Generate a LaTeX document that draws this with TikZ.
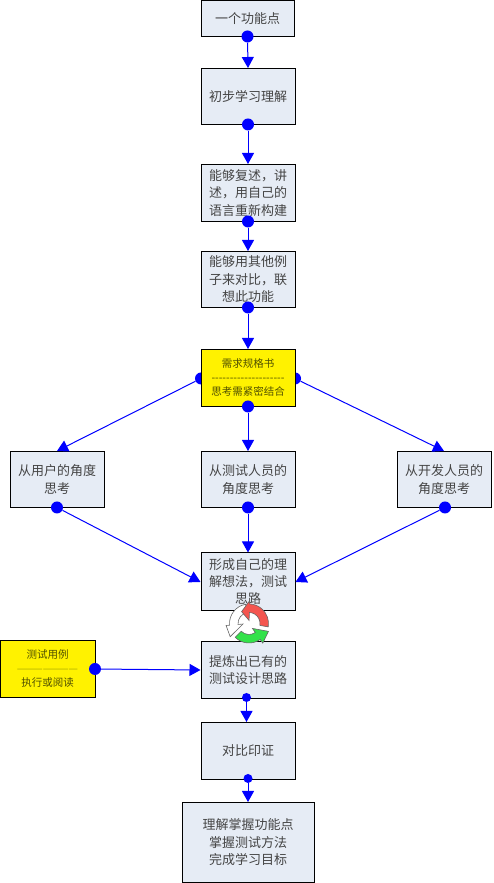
\documentclass[tikz,border=0pt]{standalone}
\usepackage{fontspec}
\setmainfont{Noto Sans CJK SC}
\usetikzlibrary{arrows.meta,calc}
\definecolor{boxfill}{HTML}{E6ECF5}
\definecolor{boxtext}{HTML}{444444}
\definecolor{yellowtext}{HTML}{505000}
\definecolor{rulegreen}{HTML}{A8A800}
\definecolor{cycgreen}{HTML}{33E24A}
\definecolor{cycred}{HTML}{F4554F}
\newcommand{\fwc}{\symbol{"FF0C}}
\tikzset{
  flowbox/.style={draw=black,line width=1pt,fill=boxfill,text=boxtext,inner sep=0pt,align=center,
    minimum width=94pt,minimum height=56pt,font=\fontsize{13}{17.5}\selectfont},
  notebox/.style={flowbox,fill=yellow,text=yellowtext,font=\fontsize{10.5}{14}\selectfont},
  bigdot/.style={circle,fill=blue,inner sep=0pt,minimum size=12pt},
  smalldot/.style={circle,fill=blue,inner sep=0pt,minimum size=9pt},
  link/.style={draw=blue,line width=1pt,-{Triangle[length=11pt,width=12pt]}},
}
% start angle, band end angle, colour, tip angle, tip radius, outer wing, inner wing
\newcommand{\cycarrow}[7]{%
  \fill[#3,draw=black!60,line width=0.6pt]
    ($(249,260)+(#1:19.5)$) arc[start angle=#1,end angle=#2,radius=19.5]
    -- ($(249,260)+(#2:#6)$) -- ($(249,260)+(#4:#5)$) -- ($(249,260)+(#2:#7)$) -- ($(249,260)+(#2:11)$)
    arc[start angle=#2,end angle=#1,radius=11] -- cycle;
}
\begin{document}
\begin{tikzpicture}[x=1pt,y=1pt]
\useasboundingbox (0,0.5) rectangle (493,883.5);
% dots half hidden behind the yellow box
\node[bigdot] (dyl) at (201,505) {};
\node[bigdot] (dyr) at (295,505) {};
% boxes
\node[flowbox,minimum width=93pt,minimum height=36pt] (b1) at (247.5,865) {一个功能点};
\node[flowbox] (b2) at (248,787) {初步学习理解};
\node[flowbox,minimum height=57pt] (b3) at (248,690.5) {能够复述\fwc 讲\\述\fwc 用自己的\\语言重新构建};
\node[flowbox] (b4) at (248,604) {能够用其他例\\子来对比\fwc 联\\想此功能};
\node[notebox,minimum height=57pt] (y1) at (248,505.5) {需求规格书\\-{}-{}-{}-{}-{}-{}-{}-{}-{}-{}-{}-{}-{}-{}-{}-{}-{}-{}-{}-\\思考需紧密结合};
\node[flowbox] (ul) at (57,404) {从用户的角度\\思考};
\node[flowbox] (um) at (248,404) {从测试人员的\\角度思考};
\node[flowbox] (ur) at (444,404) {从开发人员的\\角度思考};
\node[flowbox,minimum height=58pt,font=\fontsize{13}{17}\selectfont] (form) at (248,301.5) {形成自己的理\\解想法\fwc 测试\\思路};
\node[flowbox,minimum height=57pt] (ref) at (248,213.5) {提炼出已有的\\测试设计思路};
\node[notebox,minimum width=95pt,minimum height=57pt] (y2) at (47.5,214.5) {测试用例\\\textcolor{rulegreen}{———————}\\执行或阅读};
\node[flowbox,minimum height=57pt] (cmp) at (248,132.5) {对比印证};
\node[flowbox,minimum width=132pt,minimum height=80pt] (fin) at (248,41) {理解掌握功能点\\掌握测试方法\\完成学习目标};
% dots
\node[bigdot] (d1) at (247.5,847) {};
\node[bigdot] (d2) at (248,759) {};
\node[bigdot] (d3) at (248,662) {};
\node[bigdot] (d4) at (248,576) {};
\node[bigdot] (dyb) at (248,477) {};
\node[bigdot] (dul) at (57,376) {};
\node[bigdot] (dum) at (248,376) {};
\node[bigdot] (dur) at (445,376) {};
\node[bigdot] (dy2) at (95,214.5) {};
\node[smalldot] (dref) at (246.5,186) {};
\node[smalldot] (dcmp) at (248,105) {};
% connectors
\draw[link] (d1) -- (b2.north);
\draw[link] (d2) -- (b3.north);
\draw[link] (d3) -- (b4.north);
\draw[link] (d4) -- (y1.north);
\draw[link] (dyl) -- (ul.north);
\draw[link] (dyb) -- (um.north);
\draw[link] (dyr) -- (ur.north);
\draw[link] (dul) -- (form.west);
\draw[link] (dum) -- (form.north);
\draw[link] (dur) -- (form.east);
\draw[link] (dy2) -- (ref.west);
\draw[link] (dref) -- (cmp.north -| dref);
\draw[link] (dcmp) -- (fin.north);
% cycle arrows
\cycarrow{100}{185}{white}{215}{23}{23}{6}
\cycarrow{225}{305}{cycgreen}{-22}{21}{24}{6}
\cycarrow{-10}{88}{cycred}{122}{14}{23}{3}
\end{tikzpicture}
\end{document}
